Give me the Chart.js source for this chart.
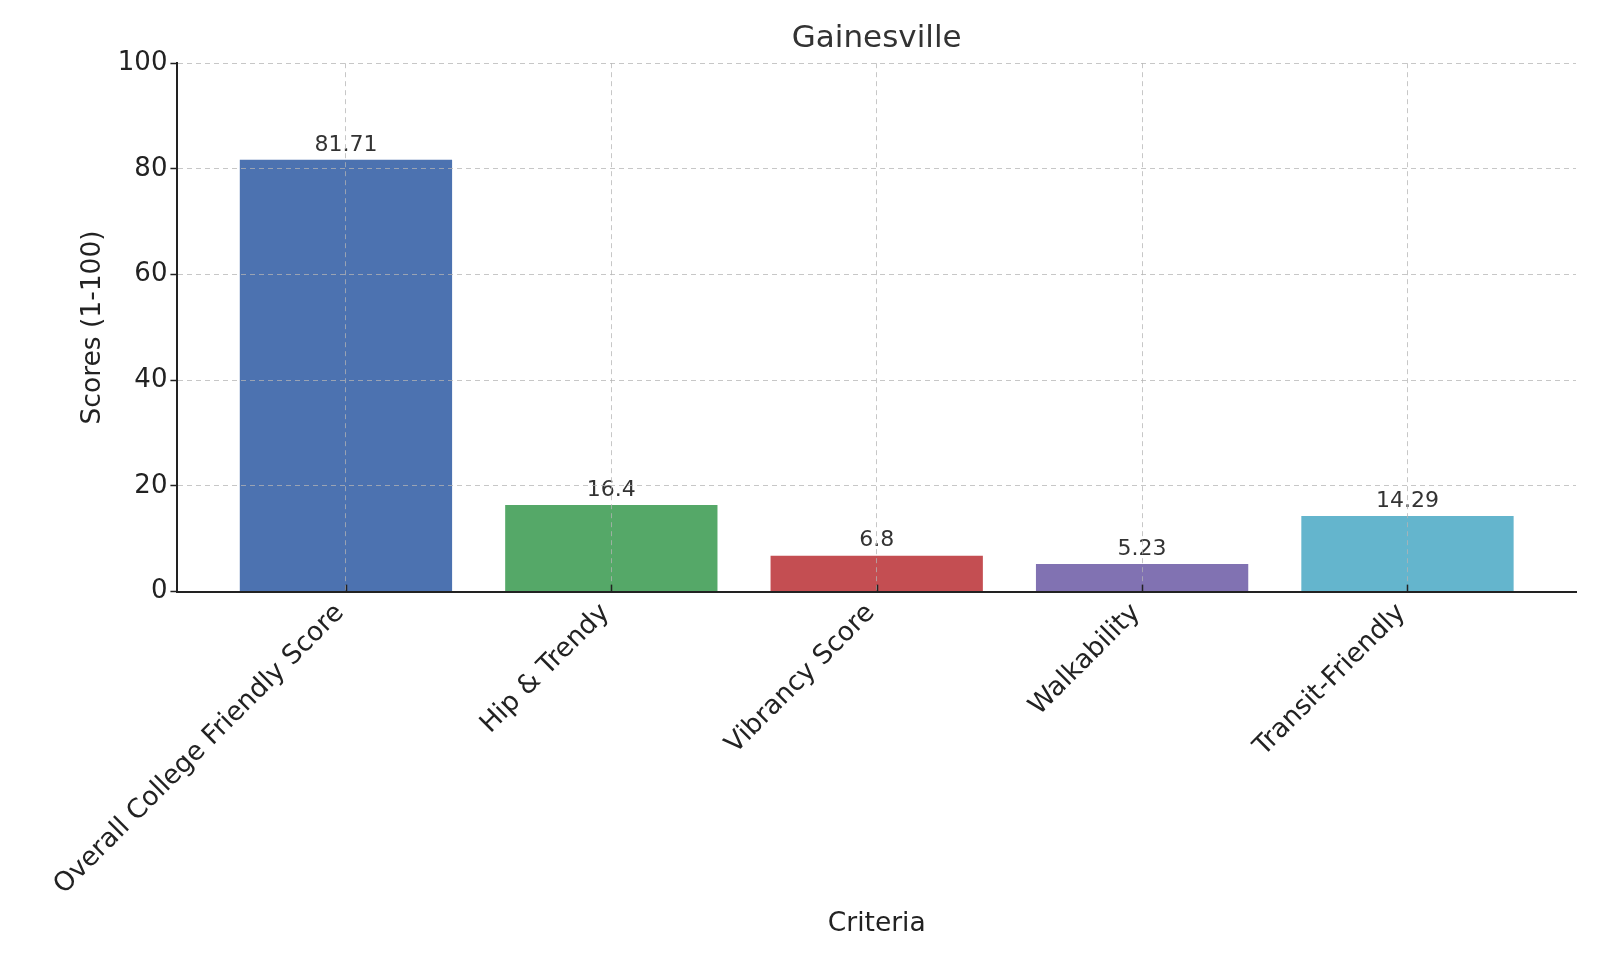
<!DOCTYPE html>
<html>
<head>
<meta charset="utf-8">
<script src="https://cdn.jsdelivr.net/npm/chart.js@4.4.1/dist/chart.umd.min.js"></script>
<style>
  html, body { margin: 0; padding: 0; background: #ffffff; }
  #wrap { width: 1600px; height: 960px; position: relative; }
</style>
</head>
<body>
<div id="wrap"><canvas id="c" width="1600" height="960"></canvas></div>
<script>
const chartTitle = "Gainesville";
const categories = ["Overall College Friendly Score", "Hip & Trendy", "Vibrancy Score", "Walkability", "Transit-Friendly"];
const scores = [81.71, 16.4, 6.8, 5.23, 14.29];
const scoreLabels = ["81.71", "16.4", "6.8", "5.23", "14.29"];
const barColors = ["#4C72B0", "#55A868", "#C44E52", "#8172B2", "#64B5CD"];
const yTicks = [0, 20, 40, 60, 80, 100];
const xTitle = "Criteria";
const yTitle = "Scores (1-100)";

const FONT = "'DejaVu Sans', sans-serif";

const valueLabelPlugin = {
  id: 'valueLabels',
  afterDatasetsDraw(chart) {
    const ctx = chart.ctx;
    const meta = chart.getDatasetMeta(0);
    ctx.save();
    ctx.font = "22px " + FONT;
    ctx.fillStyle = "#333333";
    ctx.textAlign = "center";
    ctx.textBaseline = "bottom";
    meta.data.forEach((el, i) => {
      ctx.fillText(scoreLabels[i], el.x, el.y - 4);
    });
    ctx.restore();
  }
};

// matplotlib-style inward tick marks on the x axis
const inwardTicksPlugin = {
  id: 'inwardTicks',
  afterDraw(chart) {
    const xs = chart.scales.x;
    const ctx = chart.ctx;
    const bottom = chart.chartArea.bottom;
    ctx.save();
    ctx.strokeStyle = "#222222";
    ctx.lineWidth = 1.5;
    xs.ticks.forEach(t => {
      const px = Math.round(xs.getPixelForValue(t.value)) + 0.5;
      ctx.beginPath();
      ctx.moveTo(px, bottom);
      ctx.lineTo(px, bottom - 7);
      ctx.stroke();
    });
    ctx.restore();
  }
};

new Chart(document.getElementById('c'), {
  type: 'bar',
  data: {
    datasets: [{
      data: categories.map((c, i) => ({ x: i, y: scores[i] })),
      backgroundColor: barColors,
      borderWidth: 0,
      categoryPercentage: 1.0,
      barPercentage: 0.8
    }]
  },
  options: {
    responsive: false,
    animation: false,
    devicePixelRatio: 1,
    layout: { padding: { left: 73, right: 24, top: 20, bottom: 16 } },
    plugins: {
      legend: { display: false },
      tooltip: { enabled: false },
      title: {
        display: true,
        text: chartTitle,
        fullSize: false,
        color: "#333333",
        font: { family: FONT, size: 31, weight: 'normal' },
        padding: { top: 0, bottom: 6 }
      }
    },
    scales: {
      x: {
        type: 'linear',
        min: -0.635,
        max: 4.635,
        offset: false,
        afterBuildTicks(scale) {
          scale.ticks = categories.map((c, i) => ({ value: i }));
        },
        ticks: {
          autoSkip: false,
          maxRotation: 45,
          minRotation: 45,
          color: "#222222",
          padding: 0,
          font: { family: FONT, size: 26.5 },
          callback: (v) => categories[v] + " "
        },
        grid: {
          offset: false,
          z: 1,
          drawTicks: false,
          color: "rgba(180,180,180,0.75)",
          lineWidth: 1
        },
        border: { display: true, z: 2, color: "#222222", width: 2, dash: [5, 4] },
        title: {
          display: true,
          text: xTitle,
          color: "#222222",
          font: { family: FONT, size: 26.5 },
          padding: { top: 7 }
        }
      },
      y: {
        min: 0,
        max: 100,
        afterBuildTicks(scale) {
          scale.ticks = yTicks.map(v => ({ value: v }));
        },
        ticks: {
          color: "#222222",
          padding: 3,
          font: { family: FONT, size: 26 }
        },
        grid: {
          z: 1,
          color: "rgba(180,180,180,0.75)",
          lineWidth: 1,
          tickLength: 7,
          tickColor: "#222222",
          tickWidth: 1.5
        },
        border: { display: true, z: 2, color: "#222222", width: 2, dash: [5, 4] },
        title: {
          display: true,
          text: yTitle,
          color: "#222222",
          font: { family: FONT, size: 26.5 },
          padding: { bottom: 6 }
        }
      }
    }
  },
  plugins: [valueLabelPlugin, inwardTicksPlugin]
});
</script>
</body>
</html>
